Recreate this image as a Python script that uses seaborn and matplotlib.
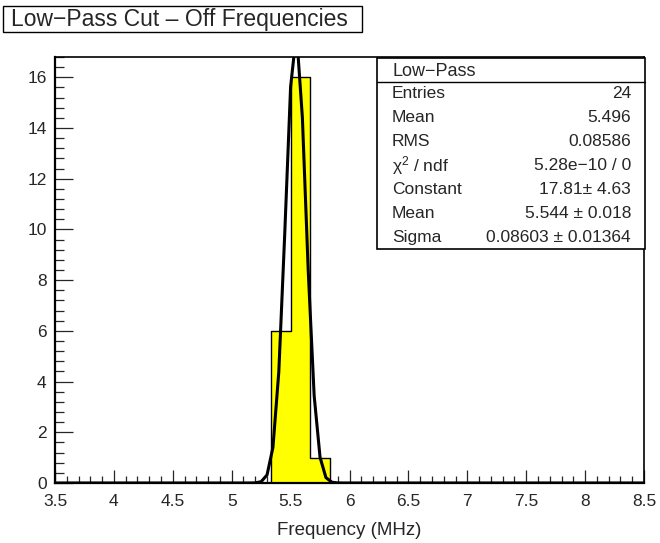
import numpy as np
import pandas as pd
import matplotlib
matplotlib.use("Agg")
import matplotlib.pyplot as plt
from matplotlib.patches import Rectangle
from matplotlib.ticker import MultipleLocator, FuncFormatter
import seaborn as sns

# Histogram binning and filled bins (bin centres in MHz, counts)
x_range = (3.5, 8.5)
n_bins = 30
bin_centers = [5.4167, 5.5833, 5.75]
bin_counts = [6, 16, 1]

# Gaussian fit result
fit_constant = 17.81
fit_mean = 5.544
fit_sigma = 0.08603

# Statistics box contents
stats_title = "Low\u2212Pass"
stats_names = ["Entries", "Mean", "RMS", "\u03c7$^{2}$ / ndf", "Constant", "Mean", "Sigma"]
stats_values = ["24", "5.496", "0.08586", "5.28e\u221210 / 0",
                "17.81\u00b1 4.63", "5.544 \u00b1 0.018", "0.08603 \u00b1 0.01364"]

title = "Low\u2212Pass Cut \u2013 Off Frequencies"
xlabel = "Frequency (MHz)"

sns.set_style("white")
plt.rcParams["font.family"] = ["Liberation Sans", "DejaVu Sans"]
plt.rcParams["mathtext.fontset"] = "custom"
plt.rcParams["mathtext.rm"] = "Liberation Sans"
plt.rcParams["mathtext.it"] = "Liberation Sans:italic"

W, H = 660, 543
fig = plt.figure(figsize=(W / 100, H / 100), dpi=100)
fig.patch.set_facecolor("white")

def fx(px):
    return px / W

def fy(py):
    return 1 - py / H

ax = fig.add_axes([fx(55), fy(483), fx(644) - fx(55), fy(57) - fy(483)])
ax.set_facecolor("white")

hist = pd.DataFrame({"freq": bin_centers, "n": bin_counts})
sns.histplot(data=hist, x="freq", weights="n", bins=n_bins, binrange=x_range,
             element="step", fill=True, color="#ffff00", alpha=1.0,
             edgecolor="black", linewidth=1.0, ax=ax)

fx_pts = np.linspace(x_range[0], x_range[1], 101)
fit = pd.DataFrame({
    "x": fx_pts,
    "y": fit_constant * np.exp(-0.5 * ((fx_pts - fit_mean) / fit_sigma) ** 2),
})
sns.lineplot(data=fit, x="x", y="y", color="black", linewidth=2.2, ax=ax,
             estimator=None, sort=False)

ax.set_xlim(*x_range)
ax.set_ylim(0, 16.8)
ax.set_ylabel("")
ax.set_xlabel(xlabel, fontsize=13.5, labelpad=9)

ax.xaxis.set_major_locator(MultipleLocator(0.5))
ax.xaxis.set_minor_locator(MultipleLocator(0.1))
ax.yaxis.set_major_locator(MultipleLocator(2))
ax.yaxis.set_minor_locator(MultipleLocator(0.4))
fmt = FuncFormatter(lambda v, p: "%g" % v)
ax.xaxis.set_major_formatter(fmt)
ax.yaxis.set_major_formatter(fmt)

ax.tick_params(axis="x", which="major", direction="in", length=9.4, width=0.9,
               labelsize=12.5, pad=8, bottom=True, top=False)
ax.tick_params(axis="x", which="minor", direction="in", length=5, width=0.9,
               bottom=True, top=False)
ax.tick_params(axis="y", which="major", direction="in", length=13, width=0.9,
               labelsize=12.5, pad=6, left=True, right=False)
ax.tick_params(axis="y", which="minor", direction="in", length=6.5, width=0.9,
               left=True, right=False)
for s in ax.spines.values():
    s.set_visible(True)
    s.set_color("black")
    s.set_linewidth(1.2)
ax.spines["left"].set_linewidth(1.6)
ax.spines["bottom"].set_linewidth(1.6)

# Title box
fig.add_artist(Rectangle((fx(3), fy(32)), fx(362) - fx(3), fy(6) - fy(32),
                         transform=fig.transFigure, facecolor="white",
                         edgecolor="black", linewidth=1.0, zorder=5))
fig.text(fx(11), fy(19.5), title, fontsize=16.5, ha="left", va="center", zorder=6)

# Statistics box
bx0, bx1, by0, by1, bsep = 377, 645, 58, 249, 82
fig.add_artist(Rectangle((fx(bx0), fy(by1)), fx(bx1) - fx(bx0), fy(by0) - fy(by1),
                         transform=fig.transFigure, facecolor="white",
                         edgecolor="black", linewidth=1.2, zorder=5))
fig.add_artist(plt.Line2D([fx(bx0), fx(bx1)], [fy(bsep), fy(bsep)],
                          transform=fig.transFigure, color="black",
                          linewidth=1.0, zorder=6))
fig.text(fx(392), fy((by0 + bsep) / 2 + 1), stats_title, fontsize=13,
         ha="left", va="center", zorder=6)
row_h = (by1 - bsep) / len(stats_names)
for i, (name, val) in enumerate(zip(stats_names, stats_values)):
    yc = bsep + row_h * (i + 0.5)
    fig.text(fx(392), fy(yc), name, fontsize=12.5, ha="left", va="center", zorder=6)
    fig.text(fx(631), fy(yc), val, fontsize=12.5, ha="right", va="center", zorder=6)

fig.savefig("out.png", dpi=100, facecolor="white")
